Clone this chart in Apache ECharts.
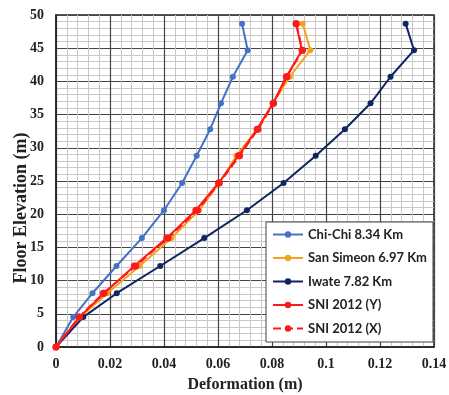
<!DOCTYPE html>
<html><head><meta charset="utf-8">
<script src="https://cdn.jsdelivr.net/npm/echarts@6/dist/echarts.min.js"></script>
<style>html,body{margin:0;padding:0;background:#fff}#c{width:449px;height:395px}</style>
</head><body><div id="c"></div>
<script>
const floors = [0, 4.5, 8.1, 12.2, 16.4, 20.6, 24.7, 28.8, 32.8, 36.7, 40.7, 44.7, 48.7];
const chiChi = [0, 0.0064, 0.0135, 0.0224, 0.0318, 0.0400, 0.0467, 0.0521, 0.0571, 0.0611, 0.0655, 0.0710, 0.0689];
const sanSimeon = [0, 0.0090, 0.0190, 0.0310, 0.0428, 0.0530, 0.0605, 0.0668, 0.0745, 0.0803, 0.0866, 0.0942, 0.0914];
const iwate = [0, 0.0101, 0.0225, 0.0386, 0.0549, 0.0707, 0.0843, 0.0962, 0.1070, 0.1165, 0.1239, 0.1326, 0.1295];
const sniY = [0, 0.0087, 0.0178, 0.0290, 0.0410, 0.0518, 0.0602, 0.0676, 0.0745, 0.0804, 0.0853, 0.0911, 0.0889];
const sniX = [0, 0.0085, 0.0175, 0.0295, 0.0415, 0.0524, 0.0605, 0.0680, 0.0748, 0.0806, 0.0855, 0.0913, 0.0890];
const names = ['Chi-Chi 8.34 Km', 'San Simeon 6.97 Km', 'Iwate 7.82 Km', 'SNI 2012 (Y)', 'SNI 2012 (X)'];
const values = [chiChi, sanSimeon, iwate, sniY, sniX];
const colors = ['#4472C4', '#F7A21B', '#0E2560', '#FF1A1A', '#FF1A1A'];
const types = ['solid', 'solid', 'solid', 'solid', 'dashed'];
const sizes = [6, 6, 6, 7, 7];
const yTitle = 'Floor Elevation (m)';

const chart = echarts.init(document.getElementById('c'));
const labelFont = {fontFamily: 'Liberation Serif', fontWeight: 'bold', fontSize: 14, color: '#222'};
chart.setOption({
  animation: false,
  grid: {left: 56, right: 15, top: 15, bottom: 48, outerBoundsMode: 'none', containLabel: false,
    show: true, borderColor: '#222', borderWidth: 1.5, backgroundColor: '#fff'},
  graphic: [{
    type: 'text', x: 21, y: 208, rotation: Math.PI / 2,
    style: {text: yTitle, align: 'center', verticalAlign: 'middle',
      font: 'bold 18px "Liberation Serif"', fill: '#222'}
  }],
  xAxis: {
    type: 'value', min: 0, max: 0.14, interval: 0.02,
    name: 'Deformation (m)', nameLocation: 'middle', nameGap: 30,
    nameTextStyle: {fontFamily: 'Liberation Serif', fontWeight: 'bold', fontSize: 16, color: '#222'},
    axisLine: {show: true, lineStyle: {color: '#222', width: 1.5}},
    axisTick: {show: false},
    axisLabel: Object.assign({margin: 10}, labelFont),
    splitLine: {show: true, lineStyle: {color: '#444', width: 1.2}},
    minorTick: {show: false, splitNumber: 5},
    minorSplitLine: {show: true, lineStyle: {color: '#c8c8c8', width: 1}}
  },
  yAxis: {
    type: 'value', min: 0, max: 50, interval: 5,
    axisLine: {show: true, lineStyle: {color: '#222', width: 1.5}},
    axisTick: {show: false},
    axisLabel: Object.assign({margin: 12}, labelFont),
    splitLine: {show: true, lineStyle: {color: '#444', width: 1.2}},
    minorTick: {show: false, splitNumber: 5},
    minorSplitLine: {show: true, lineStyle: {color: '#c8c8c8', width: 1}}
  },
  legend: {
    orient: 'vertical', left: 266, top: 222,
    backgroundColor: '#fff', borderColor: '#444', borderWidth: 1,
    padding: [6, 6, 7, 6], itemGap: 10.5, itemWidth: 30, itemHeight: 8,
    textStyle: {fontFamily: 'Lato', fontWeight: 'bold', fontSize: 13, color: '#222'},
    data: names
  },
  series: names.map((n, i) => ({
    name: n, type: 'line', z: 3 + i,
    data: values[i].map((v, k) => [v, floors[k]]),
    symbol: 'circle', symbolSize: sizes[i],
    lineStyle: {color: colors[i], width: 2, type: types[i]},
    itemStyle: {color: colors[i]}
  }))
});
</script></body></html>
